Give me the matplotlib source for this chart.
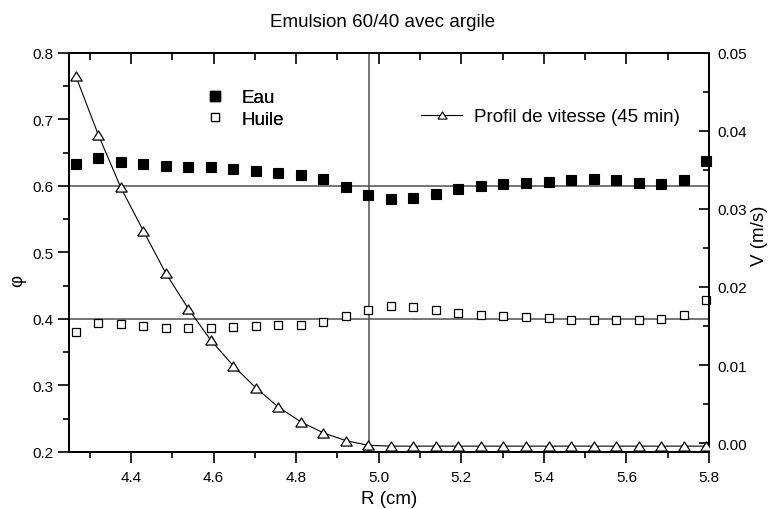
import matplotlib
matplotlib.use('Agg')
import matplotlib.pyplot as plt
from matplotlib.lines import Line2D
from matplotlib.ticker import MultipleLocator, FormatStrFormatter

plt.rcParams['font.family'] = ['Liberation Sans', 'DejaVu Sans']

# rayon (cm)
r = [4.266, 4.321, 4.375, 4.430, 4.484, 4.539, 4.593, 4.648, 4.702, 4.757,
     4.812, 4.866, 4.921, 4.975, 5.030, 5.084, 5.139, 5.193, 5.248, 5.302,
     5.357, 5.412, 5.466, 5.521, 5.575, 5.630, 5.684, 5.739, 5.793]
# fraction volumique eau
eau = [0.633, 0.642, 0.636, 0.633, 0.630, 0.629, 0.628, 0.625, 0.622, 0.6195,
       0.617, 0.610, 0.5985, 0.587, 0.580, 0.5815, 0.588, 0.595, 0.6005, 0.603,
       0.6045, 0.606, 0.6095, 0.6105, 0.6085, 0.605, 0.6025, 0.6085, 0.638]
# fraction volumique huile
huile = [0.381, 0.394, 0.3925, 0.389, 0.387, 0.3865, 0.387, 0.3885, 0.390, 0.391,
         0.3915, 0.396, 0.404, 0.414, 0.419, 0.4185, 0.4135, 0.4095, 0.4065, 0.404,
         0.4025, 0.4015, 0.399, 0.398, 0.3985, 0.399, 0.400, 0.4065, 0.429]
# profil de vitesse (m/s)
vit = [0.0471, 0.0395, 0.0328, 0.0272, 0.0218, 0.0172, 0.0132, 0.0099, 0.0071, 0.0046,
       0.0027, 0.0013, 0.0003, -0.0003, -0.0004, -0.0004, -0.0004, -0.0004, -0.0004, -0.0004,
       -0.0004, -0.0004, -0.0004, -0.0004, -0.0004, -0.0004, -0.0004, -0.0004, -0.0004]

phi_eau_ref = 0.6
phi_huile_ref = 0.4
r_ref = 4.977

tri = [(-1, -0.8), (1, -0.8), (0, 0.8), (-1, -0.8)]
grey = '#505050'

fig = plt.figure(figsize=(7.72, 5.10), dpi=100)
ax = fig.add_axes([0.0894, 0.1118, 0.8290, 0.7824])
ax2 = ax.twinx()

ax.axhline(phi_eau_ref, color=grey, lw=1.1, zorder=1)
ax.axhline(phi_huile_ref, color=grey, lw=1.1, zorder=1)
ax.axvline(r_ref, color=grey, lw=1.1, zorder=1)

ax.plot(r, eau, 's', color='black', ms=6.5, mew=0.8, zorder=3, clip_on=False)
ax.plot(r, huile, 's', mfc='white', mec='black', ms=6.3, mew=0.9, zorder=3, clip_on=False)
ax2.plot(r, vit, '-', color='black', lw=0.8, marker=tri, ms=8.2, mfc='white', mec='black',
         mew=0.9, zorder=3)

ax.set_xlim(4.25, 5.8)
ax.set_ylim(0.2, 0.8)
ax2.set_ylim(-0.00115, 0.05)

ax.xaxis.set_major_locator(MultipleLocator(0.2))
ax.xaxis.set_minor_locator(MultipleLocator(0.1))
ax.xaxis.set_major_formatter(FormatStrFormatter('%.1f'))
ax.yaxis.set_major_locator(MultipleLocator(0.1))
ax.yaxis.set_minor_locator(MultipleLocator(0.05))
ax.yaxis.set_major_formatter(FormatStrFormatter('%.1f'))
ax2.yaxis.set_major_locator(MultipleLocator(0.01))
ax2.yaxis.set_minor_locator(MultipleLocator(0.005))
ax2.yaxis.set_major_formatter(FormatStrFormatter('%.2f'))

for a in (ax, ax2):
    for s in a.spines.values():
        s.set_linewidth(1.4)

ax.tick_params(which='both', direction='out', labelsize=11, width=1.2, top=False, right=False)
ax.tick_params(which='major', length=8, pad=3)
ax.tick_params(which='minor', length=4)
ax.tick_params(axis='x', pad=5)
ax2.tick_params(which='both', direction='in', labelsize=11, width=1.2)
ax2.tick_params(which='major', length=7, pad=6)
ax2.tick_params(which='minor', length=4)

top = ax.secondary_xaxis('top')
top.xaxis.set_major_locator(MultipleLocator(0.2))
top.xaxis.set_minor_locator(MultipleLocator(0.1))
top.tick_params(which='both', direction='in', labeltop=False, width=1.2)
top.tick_params(which='major', length=8)
top.tick_params(which='minor', length=5)
top.spines['top'].set_linewidth(1.4)

ax.set_xlabel('R (cm)', fontsize=13.5, labelpad=4)
ax.set_ylabel('φ', fontsize=13.5)
ax.yaxis.set_label_coords(-0.067, 0.43)
ax2.set_ylabel('V (m/s)', fontsize=13.5)
ax2.yaxis.set_label_coords(1.065, 0.545)
fig.text(0.495, 0.955, 'Emulsion 60/40 avec argile', fontsize=13.5, ha='center', va='center')

h1 = [Line2D([], [], ls='none', marker='s', color='black', ms=6.5),
      Line2D([], [], ls='none', marker='s', mfc='white', mec='black', ms=6.3, mew=0.9)]
leg1 = ax.legend(h1, ['Eau', 'Huile'], loc='upper left', bbox_to_anchor=(206 / 772, 1 - 90 / 510),
                 bbox_transform=fig.transFigure, frameon=False, fontsize=13.5, handlelength=1.0,
                 handletextpad=0.9, labelspacing=0.25, borderpad=0, borderaxespad=0)
ax.add_artist(leg1)

h2 = [Line2D([], [], color='black', lw=0.8, marker=tri, ms=6.5, mfc='white', mec='black', mew=0.8)]
ax2.legend(h2, ['Profil de vitesse (45 min)'], loc='upper left',
           bbox_to_anchor=(421 / 772, 1 - 109 / 510), bbox_transform=fig.transFigure,
           frameon=False, fontsize=13.5, handlelength=2.2, handletextpad=0.6,
           borderpad=0, borderaxespad=0)

fig.savefig('out.png', dpi=100)
